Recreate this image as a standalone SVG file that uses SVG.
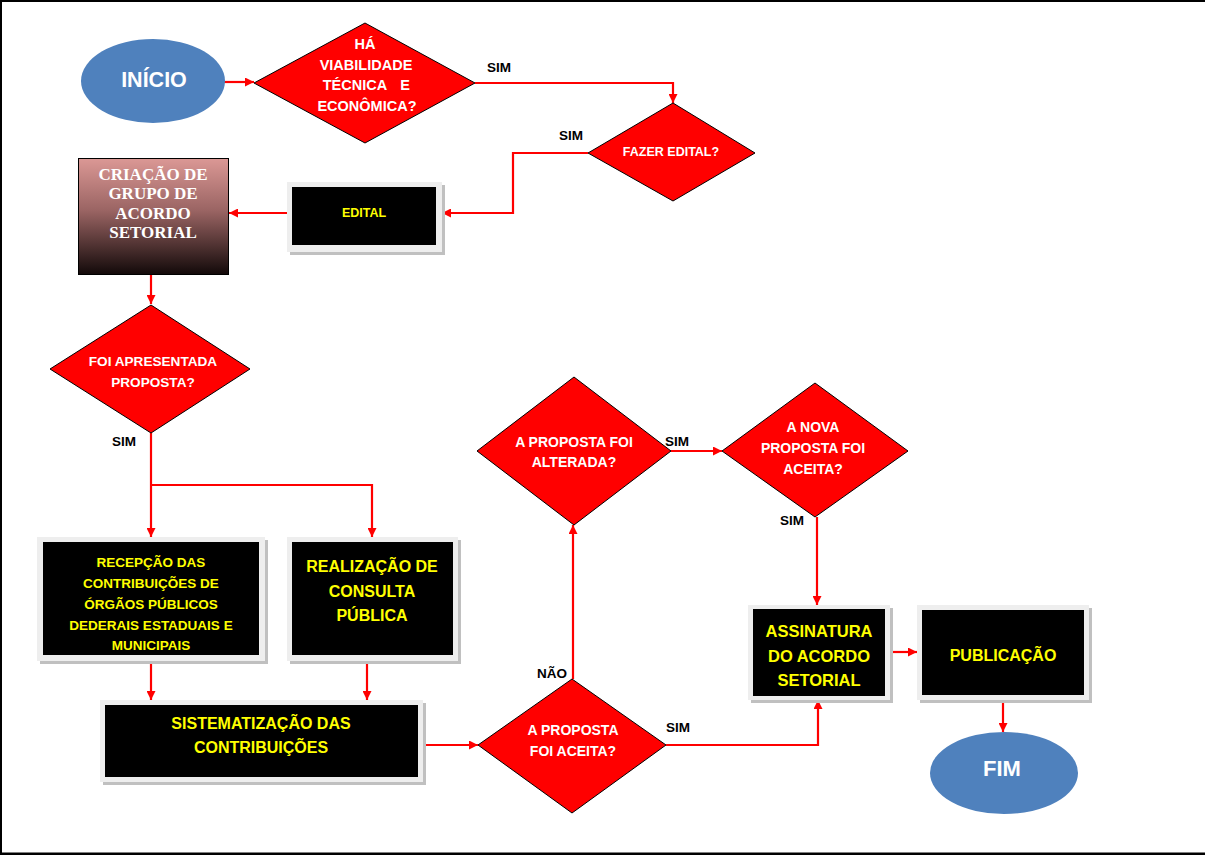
<svg xmlns="http://www.w3.org/2000/svg" width="1205" height="856" viewBox="0 0 1205 856">
<defs>
<marker id="ah" viewBox="0 0 10 10" refX="10" refY="5" markerWidth="9" markerHeight="9" markerUnits="userSpaceOnUse" orient="auto">
<path d="M0,0 L10,5 L0,10 z" fill="#ff0000"/>
</marker>
<linearGradient id="grad" x1="0" y1="0" x2="0" y2="1">
<stop offset="0" stop-color="#db9895"/>
<stop offset="0.45" stop-color="#9a6463"/>
<stop offset="1" stop-color="#120909"/>
</linearGradient>
<style>
.ell{fill:#4f81bd;}
.dia{fill:#ff0000;stroke:#000;stroke-width:1;}
.shadow{fill:#c0c0c0;}
.frame{fill:#eeeeee;}
.inner{fill:#000;}
.wt{font-family:"Liberation Sans",Arial,sans-serif;font-weight:bold;fill:#fff;text-anchor:middle;}
.yt{font-family:"Liberation Sans",Arial,sans-serif;font-weight:bold;fill:#ffff00;text-anchor:middle;}
.lbl{font-family:"Liberation Sans",Arial,sans-serif;font-weight:bold;fill:#000;font-size:13.5px;}
.tt{font-family:"Liberation Serif","Times New Roman",serif;font-weight:bold;fill:#fff;text-anchor:middle;font-size:17px;}
.con{fill:none;stroke:#ff0000;stroke-width:2.2;marker-end:url(#ah);}
</style>
</defs>
<rect x="0" y="0" width="1205" height="856" fill="#fff"/>
<line x1="0" y1="1" x2="1205" y2="1" stroke="#000" stroke-width="2"/>
<line x1="1" y1="0" x2="1" y2="855" stroke="#000" stroke-width="2"/>
<line x1="0" y1="853.8" x2="1205" y2="853.8" stroke="#000" stroke-width="2.5"/>

<g id="connectors">
<path class="con" d="M224,82 H254"/>
<path class="con" d="M475,83 H673 V103"/>
<path class="con" d="M588,153 H513 V213 H442"/>
<path class="con" d="M287,213 H229"/>
<path class="con" d="M151,274 V304"/>
<path class="con" d="M151,433 V537"/>
<path class="con" d="M151,485 H372 V537" stroke-width="1.8"/>
<path class="con" d="M151,661 V700"/>
<path class="con" d="M367,661 V700"/>
<path class="con" d="M421,745 H478"/>
<path class="con" d="M573,679 V525"/>
<path class="con" d="M671,451 H722"/>
<path class="con" d="M817,517 V605"/>
<path class="con" d="M666,745 H818 V700"/>
<path class="con" d="M890,652 H917"/>
<path class="con" d="M1003,700 V732"/>
</g>

<g id="labels">
<text class="lbl" x="487" y="72">SIM</text>
<text class="lbl" x="559" y="140">SIM</text>
<text class="lbl" x="112" y="446">SIM</text>
<text class="lbl" x="665" y="446">SIM</text>
<text class="lbl" x="780" y="525">SIM</text>
<text class="lbl" x="537" y="678">NÃO</text>
<text class="lbl" x="666" y="732">SIM</text>
</g>

<g id="inicio">
<ellipse class="ell" cx="153" cy="81" rx="72" ry="42"/>
<text class="wt" x="154" y="87" font-size="21.5">INÍCIO</text>
</g>

<g id="viabilidade">
<polygon class="dia" points="254,83 365,23 475,83 365,143"/>
<text class="wt" font-size="14.5"><tspan x="365" y="49">HÁ</tspan><tspan x="366" y="70">VIABILIDADE</tspan><tspan x="355" y="90">TÉCNICA</tspan><tspan x="405" y="90">E</tspan><tspan x="367" y="111">ECONÔMICA?</tspan></text>
</g>

<g id="fazer-edital">
<polygon class="dia" points="588,153 673,103 755,153 673,201"/>
<text class="wt" x="671" y="156" font-size="12.5">FAZER EDITAL?</text>
</g>

<g id="edital">
<rect class="shadow" x="290" y="185" width="155" height="70"/>
<rect class="frame" x="287" y="182" width="155" height="70"/>
<rect class="inner" x="292" y="187" width="144" height="58"/>
<text class="yt" x="364" y="217" font-size="12.5">EDITAL</text>
</g>

<g id="criacao">
<rect x="78.5" y="158.5" width="150" height="116" fill="url(#grad)" stroke="#000" stroke-width="1"/>
<text class="tt"><tspan x="153" y="180">CRIAÇÃO DE</tspan><tspan x="153" y="199">GRUPO DE</tspan><tspan x="153" y="219">ACORDO</tspan><tspan x="153" y="238">SETORIAL</tspan></text>
</g>

<g id="foi-apresentada">
<polygon class="dia" points="50,369 151,305 250,369 151,433" stroke-width="2"/>
<text class="wt" font-size="13.6"><tspan x="153" y="366">FOI APRESENTADA</tspan><tspan x="153" y="387">PROPOSTA?</tspan></text>
</g>

<g id="recepcao">
<rect class="shadow" x="40" y="540" width="228" height="124"/>
<rect class="frame" x="37" y="537" width="228" height="124"/>
<rect class="inner" x="43" y="542" width="216" height="113"/>
<text class="yt" font-size="13.5"><tspan x="151" y="567">RECEPÇÃO DAS</tspan><tspan x="151" y="588">CONTRIBUIÇÕES DE</tspan><tspan x="151" y="609">ÓRGÃOS PÚBLICOS</tspan><tspan x="151" y="630">DEDERAIS ESTADUAIS E</tspan><tspan x="151" y="650">MUNICIPAIS</tspan></text>
</g>

<g id="realizacao">
<rect class="shadow" x="290" y="540" width="171" height="124"/>
<rect class="frame" x="287" y="537" width="171" height="124"/>
<rect class="inner" x="292" y="542" width="161" height="113"/>
<text class="yt" font-size="16"><tspan x="372" y="572">REALIZAÇÃO DE</tspan><tspan x="372" y="597">CONSULTA</tspan><tspan x="372" y="621">PÚBLICA</tspan></text>
</g>

<g id="sistematizacao">
<rect class="shadow" x="103" y="703" width="323" height="82"/>
<rect class="frame" x="100" y="700" width="323" height="82"/>
<rect class="inner" x="105" y="705" width="313" height="72"/>
<text class="yt" font-size="16"><tspan x="261" y="729">SISTEMATIZAÇÃO DAS</tspan><tspan x="261" y="753">CONTRIBUIÇÕES</tspan></text>
</g>

<g id="foi-aceita">
<polygon class="dia" points="478,745 572,679 666,745 572,813"/>
<text class="wt" font-size="14"><tspan x="573" y="735">A PROPOSTA</tspan><tspan x="573" y="756">FOI ACEITA?</tspan></text>
</g>

<g id="foi-alterada">
<polygon class="dia" points="477,451 574,377 671,451 574,525"/>
<text class="wt" font-size="14"><tspan x="574" y="447">A PROPOSTA FOI</tspan><tspan x="574" y="467">ALTERADA?</tspan></text>
</g>

<g id="nova-aceita">
<polygon class="dia" points="722,451 815,383 908,451 815,517"/>
<text class="wt" font-size="14"><tspan x="813" y="432">A NOVA</tspan><tspan x="813" y="453">PROPOSTA FOI</tspan><tspan x="813" y="474">ACEITA?</tspan></text>
</g>

<g id="assinatura">
<rect class="shadow" x="751" y="608" width="142" height="95"/>
<rect class="frame" x="748" y="605" width="142" height="95"/>
<rect class="inner" x="753" y="609" width="132" height="87"/>
<text class="yt" font-size="16.5"><tspan x="819" y="637">ASSINATURA</tspan><tspan x="819" y="662">DO ACORDO</tspan><tspan x="819" y="686">SETORIAL</tspan></text>
</g>

<g id="publicacao">
<rect class="shadow" x="920" y="608" width="172" height="95"/>
<rect class="frame" x="917" y="605" width="172" height="95"/>
<rect class="inner" x="922" y="610" width="162" height="85"/>
<text class="yt" x="1003" y="661" font-size="16">PUBLICAÇÃO</text>
</g>

<g id="fim">
<ellipse class="ell" cx="1004" cy="773" rx="74" ry="41"/>
<text class="wt" x="1002" y="776" font-size="22">FIM</text>
</g>
</svg>
